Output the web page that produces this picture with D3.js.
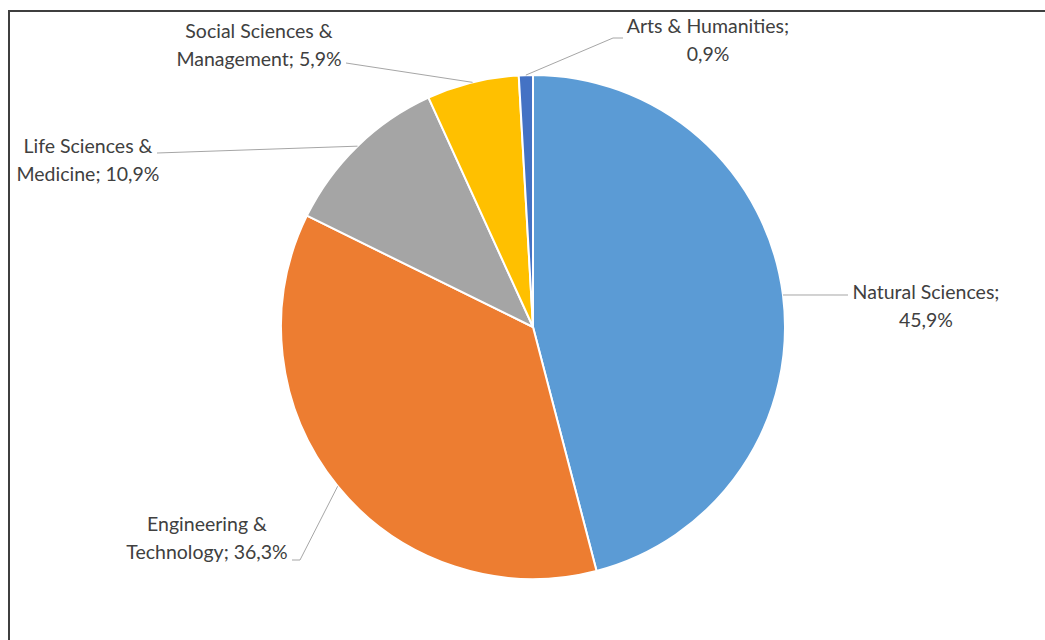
<!DOCTYPE html>
<html><head><meta charset="utf-8">
<script src="https://cdn.jsdelivr.net/npm/d3@7"></script>
<style>body{margin:0;background:#fff;} text{font-family:Lato,"Open Sans",sans-serif;}</style>
</head><body>
<svg id="c" width="1045" height="640"></svg>
<script>
const categories = ["Natural Sciences", "Engineering & Technology", "Life Sciences & Medicine", "Social Sciences & Management", "Arts & Humanities"];
const values = [45.9, 36.3, 10.9, 5.9, 0.9];
const valueLabels = ["45,9%", "36,3%", "10,9%", "5,9%", "0,9%"];
const colors = ["#5B9BD5", "#ED7D31", "#A5A5A5", "#FFC000", "#4472C4"];
const labelLines = [
  ["Natural Sciences;", "45,9%"],
  ["Engineering &", "Technology; 36,3%"],
  ["Life Sciences &", "Medicine; 10,9%"],
  ["Social Sciences &", "Management; 5,9%"],
  ["Arts & Humanities;", "0,9%"]
];
// label layout: text centre x, first baseline y, leader elbow points
const labelLayout = [
  {x: 926, y: 299, pts: [[848, 295]]},
  {x: 207, y: 531, pts: [[300, 560], [292, 560]]},
  {x: 88, y: 153, pts: [[157, 153]]},
  {x: 259, y: 38, pts: [[346, 63]]},
  {x: 708, y: 33, pts: [[613, 38], [623, 38]]}
];

const svg = d3.select("#c");
svg.append("rect").attr("x", 9).attr("y", 11).attr("width", 1060).attr("height", 660)
  .attr("fill", "none").attr("stroke", "#3f3f3f").attr("stroke-width", 2);

const cx = 533, cy = 327, r = 252;
const g = svg.append("g").attr("transform", `translate(${cx},${cy})`);
const pie = d3.pie().sort(null).value(d => d)(values);
const arc = d3.arc().innerRadius(0).outerRadius(r);

g.selectAll("path").data(pie).join("path")
  .attr("d", arc).attr("fill", (d, i) => colors[i])
  .attr("stroke", "#fff").attr("stroke-width", 2).attr("stroke-linejoin", "round");

const outer = d3.arc().innerRadius(r).outerRadius(r);
pie.forEach((d, i) => {
  const c = outer.centroid(d);
  const start = [cx + c[0], cy + c[1]];
  const L = labelLayout[i];
  const pts = [start, ...L.pts];
  svg.append("path").attr("d", d3.line()(pts)).attr("fill", "none")
    .attr("stroke", "#a6a6a6").attr("stroke-width", 1);
  const t = svg.append("text").attr("text-anchor", "middle").attr("fill", "#404040")
    .attr("font-size", 19.5);
  labelLines[i].forEach((s, k) => {
    t.append("tspan").attr("x", L.x).attr("y", L.y + k * 28).text(s);
  });
});
</script>
</body></html>
